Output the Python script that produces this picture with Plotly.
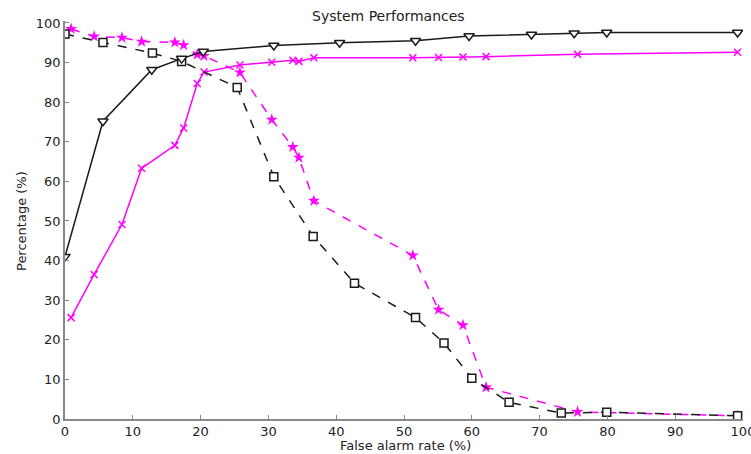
import plotly.graph_objects as go

# Black solid, down-triangles (rising)
tri_x = [0, 5.6, 12.8, 17.2, 20.4, 30.8, 40.5, 51.7, 59.6, 68.8, 75.1, 79.9, 99.2]
tri_y = [41.0, 75.2, 88.2, 91.0, 92.8, 94.3, 95.0, 95.5, 96.7, 97.1, 97.4, 97.6, 97.6]

# Black dashed, squares (falling)
sq_x = [0, 5.6, 12.9, 17.2, 25.4, 30.8, 36.6, 42.7, 51.7, 55.9, 60.0, 65.5, 73.2, 79.9, 99.2]
sq_y = [97.2, 95.1, 92.4, 90.3, 83.7, 61.2, 46.1, 34.3, 25.6, 19.2, 10.3, 4.2, 1.5, 1.7, 0.8]

# Magenta series share x positions
mg_x = [0.9, 4.3, 8.4, 11.3, 16.2, 17.5, 19.5, 20.5, 25.8, 30.5, 33.6, 34.5, 36.7,
        51.3, 55.1, 58.7, 62.1, 75.6, 99.2]
# Magenta solid, x markers (rising)
mx_y = [25.6, 36.5, 49.1, 63.3, 69.1, 73.5, 84.7, 87.6, 89.4, 90.1, 90.6, 90.3, 91.2,
        91.2, 91.3, 91.4, 91.5, 92.1, 92.6]
# Magenta dashed, stars (falling)
ms_y = [98.5, 96.6, 96.3, 95.3, 95.1, 94.4, 92.0, 91.7, 87.5, 75.6, 68.7, 66.0, 55.1,
        41.3, 27.6, 23.7, 8.0, 1.8, 0.8]

x_ticks = [0, 10, 20, 30, 40, 50, 60, 70, 80, 90, 100]
y_ticks = [0, 10, 20, 30, 40, 50, 60, 70, 80, 90, 100]

MAG = "#FF00FF"
BLK = "#1a1a1a"

fig = go.Figure()
fig.add_trace(go.Scatter(x=mg_x, y=mx_y, mode="lines+markers",
                         line=dict(color=MAG, width=1.5),
                         marker=dict(symbol="x-thin", size=7, line=dict(color=MAG, width=1.5))))
fig.add_trace(go.Scatter(x=mg_x, y=ms_y, mode="lines+markers",
                         line=dict(color=MAG, width=1.5, dash="dash"),
                         marker=dict(symbol="star", size=9, color=MAG)))
fig.add_trace(go.Scatter(x=sq_x, y=sq_y, mode="lines+markers",
                         line=dict(color=BLK, width=1.5, dash="dash"),
                         marker=dict(symbol="square", size=8, color="white",
                                     line=dict(color=BLK, width=1.5))))
fig.add_trace(go.Scatter(x=tri_x, y=tri_y, mode="lines+markers",
                         line=dict(color=BLK, width=1.5),
                         marker=dict(symbol="triangle-down", size=9, color="white",
                                     line=dict(color=BLK, width=1.5))))

font = "DejaVu Sans, Liberation Sans, Arial, sans-serif"
L, R, T, B = 65, 8, 21, 35
W, H = 751, 454
pw = W - L - R
ph = H - T - B

fig.update_layout(
    width=W, height=H,
    margin=dict(l=L, r=R, t=T, b=B, autoexpand=False),
    paper_bgcolor="white", plot_bgcolor="white",
    showlegend=False,
    font=dict(family=font, size=13, color="#222"),
    xaxis=dict(range=[0, 100], tickvals=x_ticks, ticks="inside", ticklen=4,
               tickcolor="#888", showline=True, linecolor="#888", linewidth=1.5,
               showgrid=False, zeroline=False, tickfont=dict(size=13),
               ticklabeloverflow="allow", automargin=False),
    yaxis=dict(range=[0, 100.5], tickvals=y_ticks, ticks="inside", ticklen=4,
               tickcolor="#888", showline=True, linecolor="#888", linewidth=1.5,
               showgrid=False, zeroline=False, tickfont=dict(size=13),
               ticklabeloverflow="allow", automargin=False),
)
fig.add_annotation(text="System Performances", xref="paper", yref="paper",
                   x=(388 - L) / pw, y=1, yshift=5, yanchor="middle", xanchor="center",
                   showarrow=False, font=dict(size=14))
fig.add_annotation(text="False alarm rate (%)", xref="paper", yref="paper",
                   x=(405 - L) / pw, y=0, yshift=-17, yanchor="top", xanchor="center",
                   showarrow=False, font=dict(size=13))
fig.add_annotation(text="Percentage (%)", xref="paper", yref="paper",
                   x=0, xshift=-43, y=(H - B - 221) / ph, xanchor="center", yanchor="middle",
                   textangle=-90, showarrow=False, font=dict(size=13))

fig.write_html("out.html", config={"displayModeBar": False},
               post_script="document.body.style.margin='0';document.body.style.overflow='hidden';")
